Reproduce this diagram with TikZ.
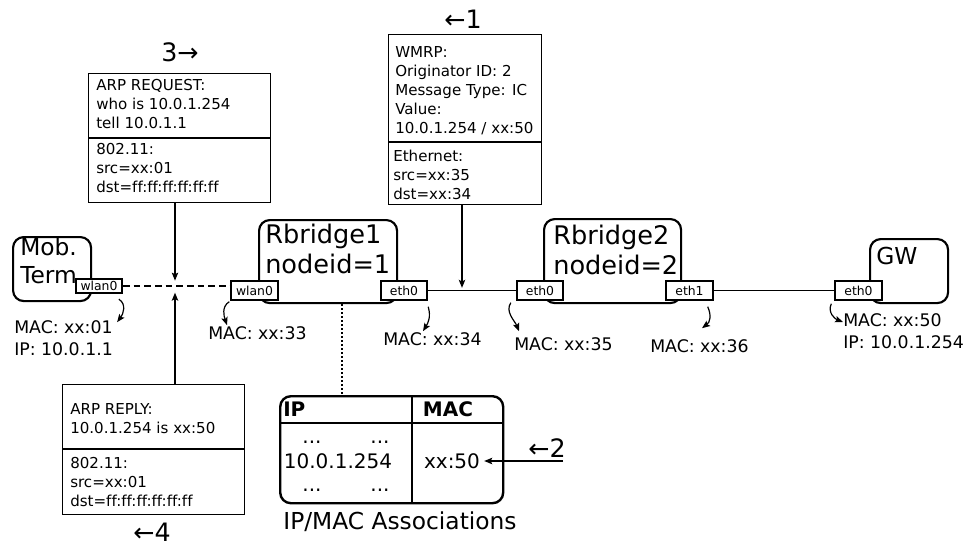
\documentclass[tikz,border=0pt]{standalone}
\usepackage{fontspec}
\setmainfont{DejaVu Sans}[Ligatures=CommonOff]
\usetikzlibrary{arrows.meta}
\begin{document}
\begin{tikzpicture}[x=0.75pt,y=-0.75pt,every node/.style={inner sep=0pt}]
        \tikzset{edge/.style = {->,> = {Stealth[length=6pt,width=4.8pt,inset=1.2pt]},line width=0.9pt}}
        \tikzset{device/.style = {draw,line width=1.6pt,rounded corners=8pt,anchor=north west}}
        \tikzset{port/.style = {draw,fill=white,line width=1.3pt,minimum width=35pt,minimum height=14pt,font=\fontsize{9.3}{10}\selectfont}}
        \tikzset{packet/.style = {draw,line width=1pt,anchor=north west}}
        \tikzset{pkttext/.style = {anchor=west,align=left,font=\fontsize{11.3}{14.3}\selectfont}}
        \tikzset{addr/.style = {anchor=west,align=left,font=\fontsize{13}{16.5}\selectfont}}
        \tikzset{big/.style = {align=left,font=\fontsize{17.5}{21}\selectfont}}
        \tikzset{bridgename/.style = {anchor=west,align=left,font=\fontsize{19.2}{23}\selectfont}}
        \tikzset{stepnum/.style = {font=\fontsize{19}{22}\selectfont}}
        \tikzset{cell/.style = {font=\fontsize{15}{18}\selectfont}}
        \tikzset{headcell/.style = {font=\fontsize{15}{18}\selectfont\bfseries}}
        \useasboundingbox (0,0) rectangle (972,546);

        \node[device,minimum width=58.5pt,minimum height=48pt] (mt) at (12,236) {};
        \node[device,minimum width=103.5pt,minimum height=62.25pt] (rb1) at (258,219) {};
        \node[device,minimum width=102.75pt,minimum height=63pt] (rb2) at (543,218) {};
        \node[device,minimum width=58.5pt,minimum height=48pt] (gw) at (869,238) {};

        \node[big,anchor=west] (mtname) at (20,261) {Mob.\\Term};
        \node[bridgename] (rb1name) at (265,249) {Rbridge1\\nodeid=1};
        \node[bridgename] (rb2name) at (553,250) {Rbridge2\\nodeid=2};
        \node[big,anchor=west] (gwname) at (876,256) {GW};

        \node[port,minimum width=34.5pt,minimum height=11pt] (mtw) at (99,286) {wlan0};
        \node[port] (rb1w) at (254.5,290.5) {wlan0};
        \node[port] (rb1e) at (404,290.5) {eth0};
        \node[port] (rb2e) at (540,290.5) {eth0};
        \node[port] (rb2f) at (689.5,290.5) {eth1};
        \node[port] (gwe) at (858.5,290.5) {eth0};

        \draw[line width=2pt,dash pattern=on 5pt off 3pt] (mtw.east) -- (mtw.east -| rb1w.west);
        \draw[line width=1pt] (rb1e.east) -- (rb2e.west);
        \draw[line width=1pt] (rb2f.east) -- (gwe.west);
        \coordinate (air) at (175,286);
        \coordinate (wire) at (462,290.5);

        % packets
        \node[packet,minimum width=136.5pt,minimum height=96.75pt] (req) at (88,73) {};
        \draw[line width=1pt] (req.west |- 0,138) -- (req.east |- 0,138);
        \node[pkttext] (reqtop) at (96,104) {ARP REQUEST:\\who is 10.0.1.254\\tell 10.0.1.1};
        \node[pkttext] (reqbot) at (96,168) {802.11:\\src=xx:01\\dst=ff:ff:ff:ff:ff:ff};
        \node[stepnum] (n3) at (180,52) {3→};

        \node[packet,minimum width=114.75pt,minimum height=127.5pt] (wmrp) at (388,34) {};
        \draw[line width=1pt] (wmrp.west |- 0,142) -- (wmrp.east |- 0,142);
        \node[pkttext] (wmrptop) at (395,91) {WMRP:\\Originator ID: 2\\Message Type: IC\\Value:\\10.0.1.254 / xx:50};
        \node[pkttext] (wmrpbot) at (393,175) {Ethernet:\\src=xx:35\\dst=xx:34};
        \node[stepnum] (n1) at (463,19) {←1};

        \node[packet,minimum width=136.5pt,minimum height=97.5pt] (rep) at (62,384) {};
        \draw[line width=1pt] (rep.west |- 0,449) -- (rep.east |- 0,449);
        \node[pkttext] (reptop) at (70,418.5) {ARP REPLY:\\10.0.1.254 is xx:50};
        \node[pkttext] (repbot) at (70,482) {802.11:\\src=xx:01\\dst=ff:ff:ff:ff:ff:ff};
        \node[stepnum] (n4) at (152,532) {←4};

        \draw[edge,shorten >=4pt] (req.south -| air) -- (air);
        \draw[edge,shorten >=5pt] (rep.north -| air) -- (air);
        \draw[edge,shorten >=2pt] (wmrp.south -| wire) -- (wire);

        % addresses
        \node[addr] (mtaddr) at (14,338) {MAC: xx:01\\IP: 10.0.1.1};
        \node[addr] (mac33) at (208,333) {MAC: xx:33};
        \node[addr] (mac34) at (383,339) {MAC: xx:34};
        \node[addr] (mac35) at (514,344) {MAC: xx:35};
        \node[addr] (mac36) at (650,346) {MAC: xx:36};
        \node[addr] (gwaddr) at (843,331) {MAC: xx:50\\IP: 10.0.1.254};

        \draw[edge] ([shift={(-4,5)}]mtw.south east) .. controls +(8,5) and +(6,-8) .. ([shift={(4,2)}]mtaddr.north east);
        \draw[edge] ([shift={(-1,1)}]rb1w.south west) .. controls +(-8,5) and +(-3,-9) .. ([shift={(19,-1)}]mac33.north west);
        \draw[edge] ([shift={(0,6)}]rb1e.south east) .. controls +(3,10) and +(5,-8) .. ([shift={(40,-1)}]mac34.north west);
        \draw[edge] ([shift={(-5,2)}]rb2e.south west) .. controls +(-6,9) and +(-4,-10) .. ([shift={(5,-6)}]mac35.north west);
        \draw[edge] ([shift={(-6,6)}]rb2f.south east) .. controls +(4,9) and +(8,-6) .. ([shift={(52,-11)}]mac36.north west);
        \draw[edge] ([shift={(-3,3)}]gwe.south west) .. controls +(-4,9) and +(-8,-3) .. ([shift={(0,-9)}]gwaddr.west);

        % association table
        \node[device,line width=1.8pt,minimum width=167.25pt,minimum height=80.25pt] (assoc) at (279,395) {};
        \draw[line width=1.8pt] (assoc.west |- 0,423) -- (assoc.east |- 0,423);
        \draw[line width=1.8pt] (assoc.north -| 412,0) -- (assoc.south -| 412,0);
        \node[headcell,anchor=west] (iphead) at (283,409) {IP};
        \node[headcell] (machead) at (448,409) {MAC};
        \node[cell] (dotsa) at (312,442) {...};
        \node[cell] (dotsb) at (380,442) {...};
        \node[cell] (ipval) at (338,461) {10.0.1.254};
        \node[cell] (dotsc) at (312,490) {...};
        \node[cell] (dotsd) at (380,490) {...};
        \node[cell] (macval) at (452,461) {xx:50};
        \node[big] (assoclabel) at (400,522) {IP/MAC Associations};
        \coordinate (dbtop) at (342,395);
        \draw[line width=0.8pt,dash pattern=on 1.5pt off 1.5pt] (rb1.south -| dbtop) -- (dbtop);
        \coordinate (tablearrow) at (563,461);
        \draw[edge,shorten >=3pt] (tablearrow) -- (macval.east);
        \node[stepnum] (n2) at (547,448) {←2};
\end{tikzpicture}
\end{document}
